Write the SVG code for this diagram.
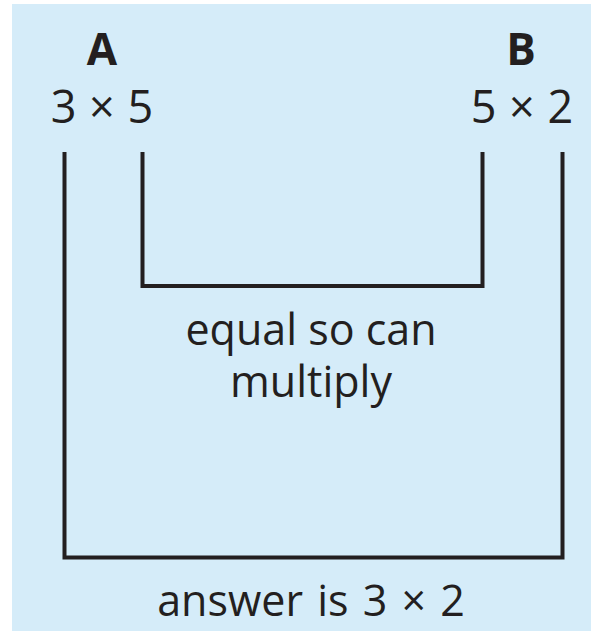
<svg xmlns="http://www.w3.org/2000/svg" width="598" height="631" viewBox="0 0 598 631">
<style>
.t{font-family:"Open Sans","Liberation Sans",sans-serif;fill:#231f20;text-anchor:middle}
.n{font-size:45px;word-spacing:1px}
.h{font-size:44px;font-weight:bold}
.l{font-size:43px}
.c{fill:none;stroke:#231f20;stroke-width:4}
</style>
<rect x="0" y="0" width="598" height="631" fill="#ffffff"/>
<rect x="12" y="4" width="579" height="627" fill="#d5ecf9"/>
<g id="nodeA">
<text class="t h" x="102" y="65">A</text>
<text class="t n" x="102" y="123">3 × 5</text>
</g>
<g id="nodeB">
<text class="t h" x="521" y="65">B</text>
<text class="t n" x="522" y="123">5 × 2</text>
</g>
<g id="connectors">
<path class="c" d="M142.5 152 V286 H482.5 V152"/>
<path class="c" d="M64.5 152 V557.5 H562.5 V152"/>
</g>
<g id="label1">
<text class="t l" x="311" y="345"><tspan x="311" y="345">equal so can</tspan><tspan x="311" y="397">multiply</tspan></text>
</g>
<g id="label2">
<text class="t l" x="311" y="616" style="word-spacing:3px">answer is 3 × 2</text>
</g>
</svg>
